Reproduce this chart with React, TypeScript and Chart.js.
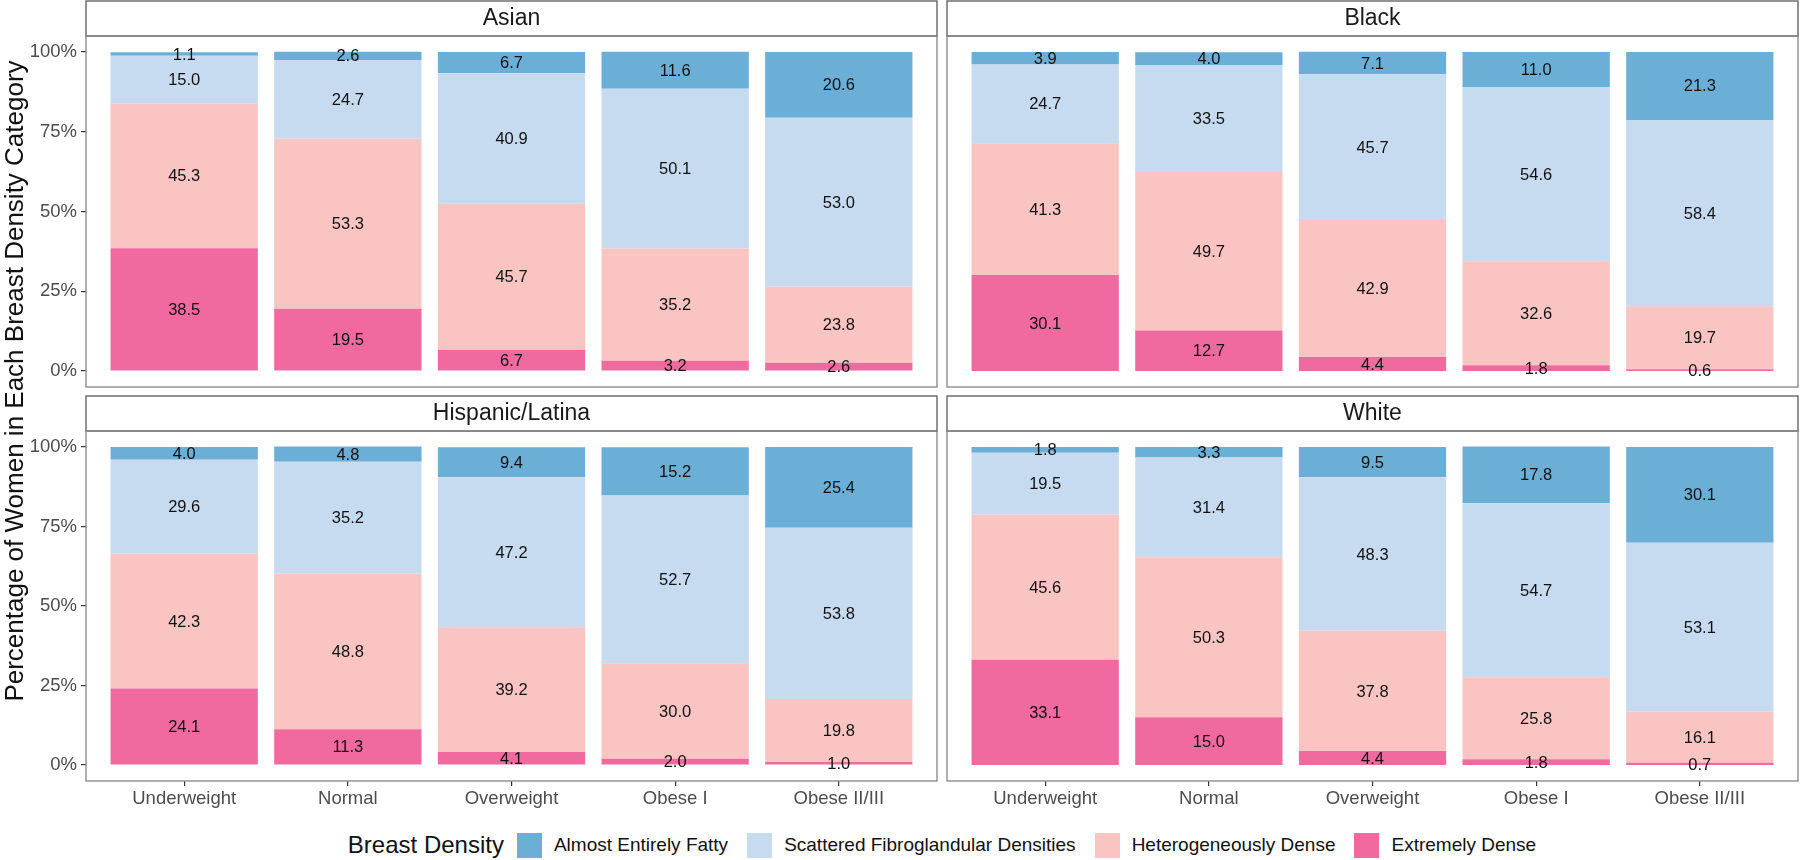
import React, { useEffect, useRef } from "react";
import { Chart, registerables } from "chart.js";

Chart.register(...registerables);

const FONT = "'Liberation Sans', Arial, Helvetica, sans-serif";

const categories = ["Underweight", "Normal", "Overweight", "Obese I", "Obese II/III"];
const densityLabels = [
  "Extremely Dense",
  "Heterogeneously Dense",
  "Scattered Fibroglandular Densities",
  "Almost Entirely Fatty",
];
const densityColors = ["#f06a9f", "#f9c4c1", "#c6dbef", "#6baed6"];
const yTicks = [0, 25, 50, 75, 100];

// Asian
const asianExtremely = [38.5, 19.5, 6.7, 3.2, 2.6];
const asianHetero = [45.3, 53.3, 45.7, 35.2, 23.8];
const asianScattered = [15.0, 24.7, 40.9, 50.1, 53.0];
const asianFatty = [1.1, 2.6, 6.7, 11.6, 20.6];
// Black
const blackExtremely = [30.1, 12.7, 4.4, 1.8, 0.6];
const blackHetero = [41.3, 49.7, 42.9, 32.6, 19.7];
const blackScattered = [24.7, 33.5, 45.7, 54.6, 58.4];
const blackFatty = [3.9, 4.0, 7.1, 11.0, 21.3];
// Hispanic/Latina
const hispExtremely = [24.1, 11.3, 4.1, 2.0, 1.0];
const hispHetero = [42.3, 48.8, 39.2, 30.0, 19.8];
const hispScattered = [29.6, 35.2, 47.2, 52.7, 53.8];
const hispFatty = [4.0, 4.8, 9.4, 15.2, 25.4];
// White
const whiteExtremely = [33.1, 15.0, 4.4, 1.8, 0.7];
const whiteHetero = [45.6, 50.3, 37.8, 25.8, 16.1];
const whiteScattered = [19.5, 31.4, 48.3, 54.7, 53.1];
const whiteFatty = [1.8, 3.3, 9.5, 17.8, 30.1];

const stripPlugin = {
  id: "strip",
  beforeDraw(chart: any) {
    const { ctx, chartArea } = chart;
    const h = 35;
    ctx.save();
    ctx.fillStyle = "#ffffff";
    ctx.fillRect(chartArea.left, chartArea.top - h, chartArea.right - chartArea.left, h);
    ctx.strokeStyle = "#666666";
    ctx.lineWidth = 1.4;
    ctx.strokeRect(chartArea.left, chartArea.top - h, chartArea.right - chartArea.left, h);
    ctx.restore();
  },
  afterDraw(chart: any) {
    const { ctx, chartArea } = chart;
    ctx.save();
    ctx.strokeStyle = "#858585";
    ctx.lineWidth = 1.3;
    ctx.strokeRect(chartArea.left, chartArea.top, chartArea.right - chartArea.left, chartArea.bottom - chartArea.top);
    ctx.restore();
  },
};

const labelPlugin = {
  id: "segLabels",
  afterDatasetsDraw(chart: any) {
    const { ctx } = chart;
    ctx.save();
    ctx.fillStyle = "#111111";
    ctx.font = `16.5px ${FONT}`;
    ctx.textAlign = "center";
    ctx.textBaseline = "middle";
    chart.data.datasets.forEach((ds: any, i: number) => {
      const meta = chart.getDatasetMeta(i);
      meta.data.forEach((el: any, j: number) => {
        const v = ds.data[j].y;
        const y = (el.y + el.base) / 2;
        ctx.fillText(v.toFixed(1), el.x, y + 1);
      });
    });
    ctx.restore();
  },
};

type PanelProps = {
  name: string;
  series: number[][];
  showY: boolean;
  showX: boolean;
  left: number;
  top: number;
  width: number;
  height: number;
  padding: { top: number; bottom: number; left: number; right: number };
};

function Panel({ name, series, showY, showX, left, top, width, height, padding }: PanelProps) {
  const ref = useRef<HTMLCanvasElement | null>(null);
  useEffect(() => {
    if (!ref.current) return;
    const xScale: any = {
      type: "linear",
      min: 0.4,
      max: 5.6,
      offset: false,
      stacked: true,
      display: showX,
      afterBuildTicks: (s: any) => {
        s.ticks = categories.map((_, i) => ({ value: i + 1 }));
      },
      afterFit: (s: any) => {
        if (showX) s.height = 49;
        s.paddingLeft = 0;
        s.paddingRight = 0;
        s.paddingTop = 0;
        s.paddingBottom = 0;
      },
      grid: {
        display: true,
        offset: false,
        drawOnChartArea: false,
        drawTicks: true,
        tickLength: 5,
        color: "#333333",
        lineWidth: 1.2,
      },
      border: { display: false },
      ticks: {
        padding: 2,
        color: "#4d4d4d",
        font: { family: FONT, size: 18.5 },
        maxRotation: 0,
        autoSkip: false,
        callback: (v: any) => categories[Math.round(v) - 1] ?? "",
      },
    };
    const yScale: any = {
      type: "linear",
      min: -5,
      max: 105,
      stacked: true,
      display: showY,
      afterBuildTicks: (s: any) => {
        s.ticks = yTicks.map((v) => ({ value: v }));
      },
      afterFit: (s: any) => {
        if (showY) s.width = 86;
        s.paddingLeft = 0;
        s.paddingRight = 0;
        s.paddingTop = 0;
        s.paddingBottom = 0;
      },
      grid: {
        display: true,
        drawOnChartArea: false,
        drawTicks: true,
        tickLength: 5,
        color: "#333333",
        lineWidth: 1.2,
      },
      border: { display: false },
      ticks: {
        padding: 4,
        color: "#4d4d4d",
        font: { family: FONT, size: 18.5 },
        callback: (v: any) => `${v}%`,
      },
    };

    const chart = new Chart(ref.current, {
      type: "bar",
      data: {
        datasets: series.map((vals, i) => ({
          label: densityLabels[i],
          data: vals.map((v, j) => ({ x: j + 1, y: v })),
          backgroundColor: densityColors[i],
          borderWidth: 0,
          categoryPercentage: 0.9,
          barPercentage: 1,
        })),
      } as any,
      options: {
        responsive: false,
        animation: false,
        layout: { padding },
        plugins: {
          legend: { display: false },
          tooltip: { enabled: false },
          title: {
            display: true,
            text: name,
            fullSize: false,
            color: "#1a1a1a",
            font: { family: FONT, size: 23, weight: "normal" as any, lineHeight: 1.2 },
            padding: { top: 4, bottom: 3.4 },
          },
        },
        scales: { x: xScale, y: yScale },
      } as any,
      plugins: [stripPlugin, labelPlugin],
    });
    return () => chart.destroy();
  }, []);
  return (
    <canvas
      ref={ref}
      width={width}
      height={height}
      style={{ position: "absolute", left, top, width, height }}
    />
  );
}

const legendOrder = [3, 2, 1, 0];

export default function App() {
  return (
    <div
      style={{
        position: "fixed",
        left: 0,
        top: 0,
        width: 1800,
        height: 860,
        background: "#ffffff",
        overflow: "hidden",
        fontFamily: FONT,
      }}
    >
      <Panel
        name="Asian"
        series={[asianExtremely, asianHetero, asianScattered, asianFatty]}
        showY={true}
        showX={false}
        left={0}
        top={0}
        width={942}
        height={391}
        padding={{ top: 1, bottom: 4, left: 0, right: 5 }}
      />
      <Panel
        name="Black"
        series={[blackExtremely, blackHetero, blackScattered, blackFatty]}
        showY={false}
        showX={false}
        left={942}
        top={0}
        width={858}
        height={391}
        padding={{ top: 1, bottom: 4, left: 5, right: 2 }}
      />
      <Panel
        name="Hispanic/Latina"
        series={[hispExtremely, hispHetero, hispScattered, hispFatty]}
        showY={true}
        showX={true}
        left={0}
        top={391}
        width={942}
        height={439}
        padding={{ top: 5, bottom: 0, left: 0, right: 5 }}
      />
      <Panel
        name="White"
        series={[whiteExtremely, whiteHetero, whiteScattered, whiteFatty]}
        showY={false}
        showX={true}
        left={942}
        top={391}
        width={858}
        height={439}
        padding={{ top: 5, bottom: 0, left: 5, right: 2 }}
      />
      <div
        style={{
          position: "absolute",
          left: 14 - 400,
          top: 381 - 16,
          width: 800,
          height: 32,
          lineHeight: "32px",
          textAlign: "center",
          fontSize: 26,
          color: "#111111",
          transform: "rotate(-90deg)",
          transformOrigin: "50% 50%",
          whiteSpace: "nowrap",
        }}
      >
        Percentage of Women in Each Breast Density Category
      </div>
      <div
        style={{
          position: "absolute",
          left: 86,
          top: 831,
          width: 1712,
          height: 28,
          display: "flex",
          justifyContent: "center",
          alignItems: "center",
          whiteSpace: "nowrap",
        }}
      >
        <span style={{ fontSize: 24, color: "#111111", marginRight: 13 }}>Breast Density</span>
        {legendOrder.map((i, k) => (
          <React.Fragment key={i}>
            <span
              style={{
                display: "inline-block",
                width: 25,
                height: 25,
                background: densityColors[i],
                marginRight: 12,
              }}
            />
            <span style={{ fontSize: 19, color: "#111111", marginRight: k === legendOrder.length - 1 ? 0 : 19 }}>
              {densityLabels[i]}
            </span>
          </React.Fragment>
        ))}
      </div>
    </div>
  );
}
